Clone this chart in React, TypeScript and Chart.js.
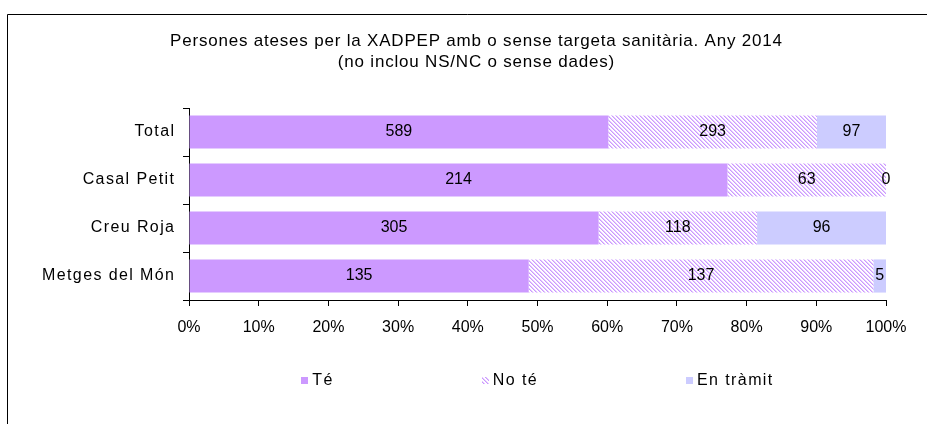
import React, { useEffect, useRef } from "react";
import { Chart, registerables } from "chart.js";

Chart.register(...registerables);

const titleLines = [
  "Persones ateses per la XADPEP amb o sense targeta sanitària. Any 2014",
  "(no inclou NS/NC o sense dades)",
];
const categories = ["Total", "Casal Petit", "Creu Roja", "Metges del Món"];
const seriesNames = ["Té", "No té", "En tràmit"];
const teValues = [589, 214, 305, 135];
const noTeValues = [293, 63, 118, 137];
const tramitValues = [97, 0, 96, 5];
const xTickStep = 10;

const FONT = "'Liberation Sans', Arial, sans-serif";
const FS = 16;
const PURPLE = "#CC99FF";
const LAVENDER = "#CCCCFF";

function makeHatch(): CanvasPattern | string {
  const c = document.createElement("canvas");
  c.width = 4;
  c.height = 4;
  const ctx = c.getContext("2d");
  if (!ctx) return PURPLE;
  ctx.fillStyle = "#ffffff";
  ctx.fillRect(0, 0, 4, 4);
  for (let y = 0; y < 4; y++) {
    for (let x = 0; x < 4; x++) {
      const d = (((x - y) % 4) + 4) % 4;
      if (d === 0) {
        ctx.fillStyle = "#CC99FF";
        ctx.fillRect(x, y, 1, 1);
      } else if (d === 1) {
        ctx.fillStyle = "#E3C8FF";
        ctx.fillRect(x, y, 1, 1);
      }
    }
  }
  return ctx.createPattern(c, "repeat") || PURPLE;
}

function spacedText(ctx: any, text: string, x: number, y: number, spacing: number, align: string) {
  ctx.letterSpacing = `${spacing}px`;
  const w = ctx.measureText(text).width - spacing;
  let sx = x;
  if (align === "center") sx = x - w / 2;
  else if (align === "right") sx = x - w;
  ctx.textAlign = "left";
  ctx.fillText(text, sx, y);
  ctx.letterSpacing = "0px";
  return w;
}

export default function App() {
  const ref = useRef<HTMLCanvasElement | null>(null);

  useEffect(() => {
    if (!ref.current) return;
    const hatch = makeHatch();
    const raw = [teValues, noTeValues, tramitValues];
    const totals = categories.map((_, i) => teValues[i] + noTeValues[i] + tramitValues[i]);
    const pct = raw.map((arr) => arr.map((v, i) => (v / totals[i]) * 100));
    const colors: (string | CanvasPattern)[] = [PURPLE, hatch, LAVENDER];

    const decor = {
      id: "decor",
      beforeDraw(chart: any) {
        const ctx = chart.ctx;
        ctx.save();
        ctx.fillStyle = "#ffffff";
        ctx.fillRect(0, 0, chart.width, chart.height);
        ctx.strokeStyle = "#000000";
        ctx.lineWidth = 1;
        ctx.beginPath();
        ctx.moveTo(7.5, chart.height);
        ctx.lineTo(7.5, 14.5);
        ctx.lineTo(chart.width, 14.5);
        ctx.stroke();
        ctx.restore();
      },
      afterDraw(chart: any) {
        const ctx = chart.ctx;
        ctx.save();
        ctx.fillStyle = "#000000";
        ctx.textBaseline = "middle";
        // title
        ctx.font = `17px ${FONT}`;
        spacedText(ctx, titleLines[0], 476, 41, 0.8, "center");
        spacedText(ctx, titleLines[1], 476, 62, 0.8, "center");
        ctx.font = `${FS}px ${FONT}`;
        // category labels
        const yScale = chart.scales.y;
        categories.forEach((c, i) => {
          const py = yScale.getPixelForTick(i);
          spacedText(ctx, c, chart.chartArea.left - 15, py, 1.4, "right");
        });
        // data labels
        ctx.textAlign = "center";
        chart.data.datasets.forEach((ds: any, di: number) => {
          const meta = chart.getDatasetMeta(di);
          meta.data.forEach((el: any, i: number) => {
            const props = el.getProps(["x", "y", "base"], true);
            const cx = (props.x + props.base) / 2;
            ctx.fillText(String(raw[di][i]), cx, props.y);
          });
        });
        // legend
        const box = 7;
        const gapBoxText = 4;
        ctx.letterSpacing = "1.4px";
        const widths = seriesNames.map((n) => box + gapBoxText + ctx.measureText(n).width);
        ctx.letterSpacing = "0px";
        const gap = 148;
        const total = widths.reduce((a, b) => a + b, 0) + gap * (seriesNames.length - 1);
        const area = chart.chartArea;
        let x = (area.left + area.right) / 2 - total / 2;
        const ly = 380.5;
        seriesNames.forEach((n, i) => {
          ctx.fillStyle = colors[i] as any;
          ctx.fillRect(Math.round(x), Math.round(ly - box / 2), box, box);
          ctx.fillStyle = "#000000";
          spacedText(ctx, n, x + box + gapBoxText, ly + 0.5, 1.4, "left");
          x += widths[i] + gap;
        });
        ctx.restore();
      },
    };

    const chart = new Chart(ref.current, {
      type: "bar",
      data: {
        labels: categories,
        datasets: seriesNames.map((name, i) => ({
          label: name,
          data: pct[i],
          backgroundColor: colors[i] as any,
          borderWidth: 0,
          categoryPercentage: 1,
          barPercentage: 0.69,
        })),
      },
      options: {
        indexAxis: "y",
        responsive: false,
        animation: false,
        devicePixelRatio: 1,
        layout: { padding: { top: 108, right: 41, left: 0, bottom: 0 } },
        plugins: {
          legend: { display: false },
          title: { display: false },
          tooltip: { enabled: false },
        },
        scales: {
          x: {
            stacked: true,
            min: 0,
            max: 100,
            afterFit(scale: any) {
              scale.height = 124;
            },
            ticks: {
              stepSize: xTickStep,
              color: "#000000",
              font: { family: FONT, size: FS },
              padding: 12,
              maxRotation: 0,
              autoSkip: false,
              callback: (v: any) => `${v}%`,
            },
            grid: {
              drawOnChartArea: false,
              drawTicks: true,
              tickLength: 6,
              color: "#000000",
            },
            border: { display: true, color: "#000000", width: 1 },
          },
          y: {
            stacked: true,
            afterFit(scale: any) {
              scale.width = 189;
            },
            ticks: {
              color: "rgba(0,0,0,0)",
              font: { family: FONT, size: FS },
              padding: 9,
            },
            grid: {
              drawOnChartArea: false,
              drawTicks: true,
              tickLength: 6,
              color: "#000000",
            },
            border: { display: true, color: "#000000", width: 1 },
          },
        },
      },
      plugins: [decor],
    });
    return () => chart.destroy();
  }, []);

  return (
    <div style={{ position: "fixed", left: 0, top: 0, width: 927, height: 424 }}>
      <canvas ref={ref} width={927} height={424} />
    </div>
  );
}
